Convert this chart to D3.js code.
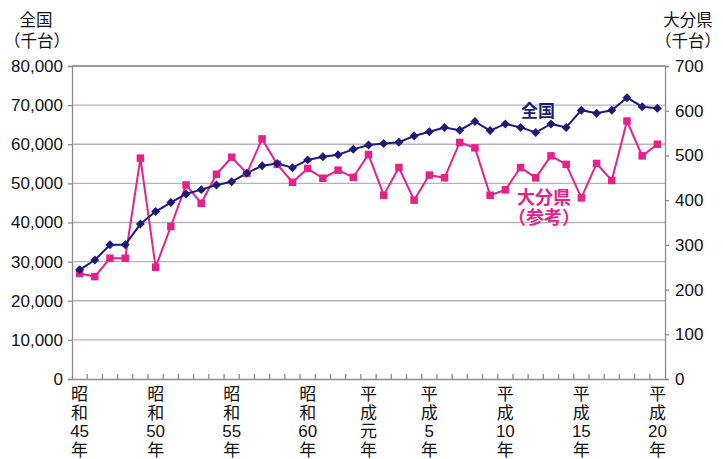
<!DOCTYPE html>
<html>
<head>
<meta charset="utf-8">
<script src="https://cdn.jsdelivr.net/npm/d3@7"></script>
<style>
  body { margin: 0; background: #fff; }
  svg { font-family: "Liberation Sans", Arial, "Noto Sans CJK JP", sans-serif; }
  .grid line { stroke: #b4b4b4; stroke-width: 1.3; }
  .axis path, .axis line { stroke: #8c8c8c; stroke-width: 1.3; }
</style>
</head>
<body>
<svg id="chart" width="723" height="459"></svg>
<script>
// years: 昭和45年 (1970) .. 平成20年 (2008)
var years = d3.range(1970, 2009);

// 全国 (千台)
var national = [27900, 30400, 34300, 34300, 39600, 42800, 45100, 47300, 48400, 49600,
  50400, 52600, 54500, 55100, 54000, 56000, 56800, 57300, 58700, 59800,
  60200, 60500, 62100, 63200, 64300, 63600, 65800, 63500, 65200, 64300,
  63000, 65200, 64300, 68700, 67900, 68700, 71900, 69600, 69200];

// 大分県 (千台, 参考)
var oita = [236, 229, 270, 270, 494, 250, 341, 434, 393, 458,
  496, 460, 537, 480, 440, 471, 449, 467, 451, 502,
  411, 473, 400, 456, 450, 529, 517, 411, 423, 473,
  450, 499, 480, 405, 482, 444, 577, 499, 525];

// x tick labels: [index, lines]
var xLabels = [
  [0, ['昭', '和', '45', '年']],
  [5, ['昭', '和', '50', '年']],
  [10, ['昭', '和', '55', '年']],
  [15, ['昭', '和', '60', '年']],
  [19, ['平', '成', '元', '年']],
  [23, ['平', '成', '5', '年']],
  [28, ['平', '成', '10', '年']],
  [33, ['平', '成', '15', '年']],
  [38, ['平', '成', '20', '年']]
];

var leftTicks = d3.range(0, 80001, 10000);
var rightTicks = d3.range(0, 701, 100);

var margin = {top: 66, right: 58, bottom: 80, left: 72}
  , width = 723 - margin.left - margin.right
  , height = 459 - margin.top - margin.bottom
  , navy = '#1c1a78'
  , pink = '#e5218c'
  ;

var svg = d3.select('#chart');
var g = svg.append('g').attr('transform', 'translate(' + margin.left + ',' + margin.top + ')');

var x = d3.scaleBand().domain(years).range([0, width]);
var yL = d3.scaleLinear().domain([0, 80000]).range([height, 0]);
var yR = d3.scaleLinear().domain([0, 700]).range([height, 0]);
var cx = function (i) { return x(years[i]) + x.bandwidth() / 2; };

// gridlines
g.append('g').attr('class', 'grid')
  .selectAll('line').data(leftTicks.slice(1))
  .enter().append('line')
    .attr('x1', 0).attr('x2', width)
    .attr('y1', function (d) { return yL(d); })
    .attr('y2', function (d) { return yL(d); });

// left axis
var axL = g.append('g').attr('class', 'axis')
  .call(d3.axisLeft(yL).tickValues(leftTicks).tickSize(4).tickFormat(d3.format(',')));
axL.selectAll('text').attr('x', -9).style('font-size', '17px').attr('fill', '#111');

// right axis
var axR = g.append('g').attr('class', 'axis')
  .attr('transform', 'translate(' + width + ',0)')
  .call(d3.axisRight(yR).tickValues(rightTicks).tickSize(4));
axR.selectAll('text').attr('x', 10).style('font-size', '17px').attr('fill', '#111');

// bottom axis
var axB = g.append('g').attr('class', 'axis')
  .attr('transform', 'translate(0,' + height + ')')
  .call(d3.axisBottom(x).tickValues([]).tickSizeOuter(0));
axB.selectAll('.cat-tick').data(years.slice(1))
  .enter().append('line')
    .attr('x1', function (d) { return x(d); })
    .attr('x2', function (d) { return x(d); })
    .attr('y1', 0).attr('y2', -5)
    .attr('stroke', '#8c8c8c');
g.append('line')
  .attr('x1', 0).attr('x2', width).attr('y1', 0).attr('y2', 0)
  .attr('stroke', '#8c8c8c').attr('stroke-width', 1.3);

// x labels, stacked vertically
xLabels.forEach(function (d) {
  var t = g.append('text')
    .attr('x', cx(d[0]))
    .attr('y', height + 21)
    .attr('text-anchor', 'middle')
    .style('font-size', '17px')
    .attr('fill', '#111');
  d[1].forEach(function (s, k) {
    t.append('tspan').attr('x', cx(d[0])).attr('dy', k === 0 ? 0 : 18.5).text(s);
  });
});

// lines
var lineL = d3.line().x(function (d, i) { return cx(i); }).y(function (d) { return yL(d); });
var lineR = d3.line().x(function (d, i) { return cx(i); }).y(function (d) { return yR(d); });

g.append('path').datum(oita)
  .attr('fill', 'none').attr('stroke', pink).attr('stroke-width', 2).attr('d', lineR);
g.append('path').datum(national)
  .attr('fill', 'none').attr('stroke', navy).attr('stroke-width', 2).attr('d', lineL);

g.selectAll('.sq').data(oita)
  .enter().append('rect')
    .attr('x', function (d, i) { return cx(i) - 3.75; })
    .attr('y', function (d) { return yR(d) - 3.75; })
    .attr('width', 7.5).attr('height', 7.5)
    .attr('fill', pink);

g.selectAll('.dm').data(national)
  .enter().append('path')
    .attr('d', d3.symbol().type(d3.symbolSquare).size(40))
    .attr('transform', function (d, i) { return 'translate(' + cx(i) + ',' + yL(d) + ') rotate(45)'; })
    .attr('fill', navy);

// series labels
g.append('text').attr('x', 538 - margin.left).attr('y', 117 - margin.top)
  .attr('text-anchor', 'middle').attr('fill', navy)
  .style('font-size', '17px').style('font-weight', 'bold').text('全国');
g.append('text').attr('x', 544 - margin.left).attr('y', 204 - margin.top)
  .attr('text-anchor', 'middle').attr('fill', pink)
  .style('font-size', '18px').style('font-weight', 'bold').text('大分県');
g.append('text').attr('x', 544 - margin.left).attr('y', 224 - margin.top)
  .attr('text-anchor', 'middle').attr('fill', pink)
  .style('font-size', '18px').style('font-weight', 'bold').text('（参考）');

// axis titles
var titles = [[36, 26, '全国'], [37, 47, '（千台）'], [688, 26, '大分県'], [688, 47, '（千台）']];
titles.forEach(function (t) {
  svg.append('text').attr('x', t[0]).attr('y', t[1])
    .attr('text-anchor', 'middle').attr('fill', '#111')
    .style('font-size', '16.5px').text(t[2]);
});
</script>
</body>
</html>
